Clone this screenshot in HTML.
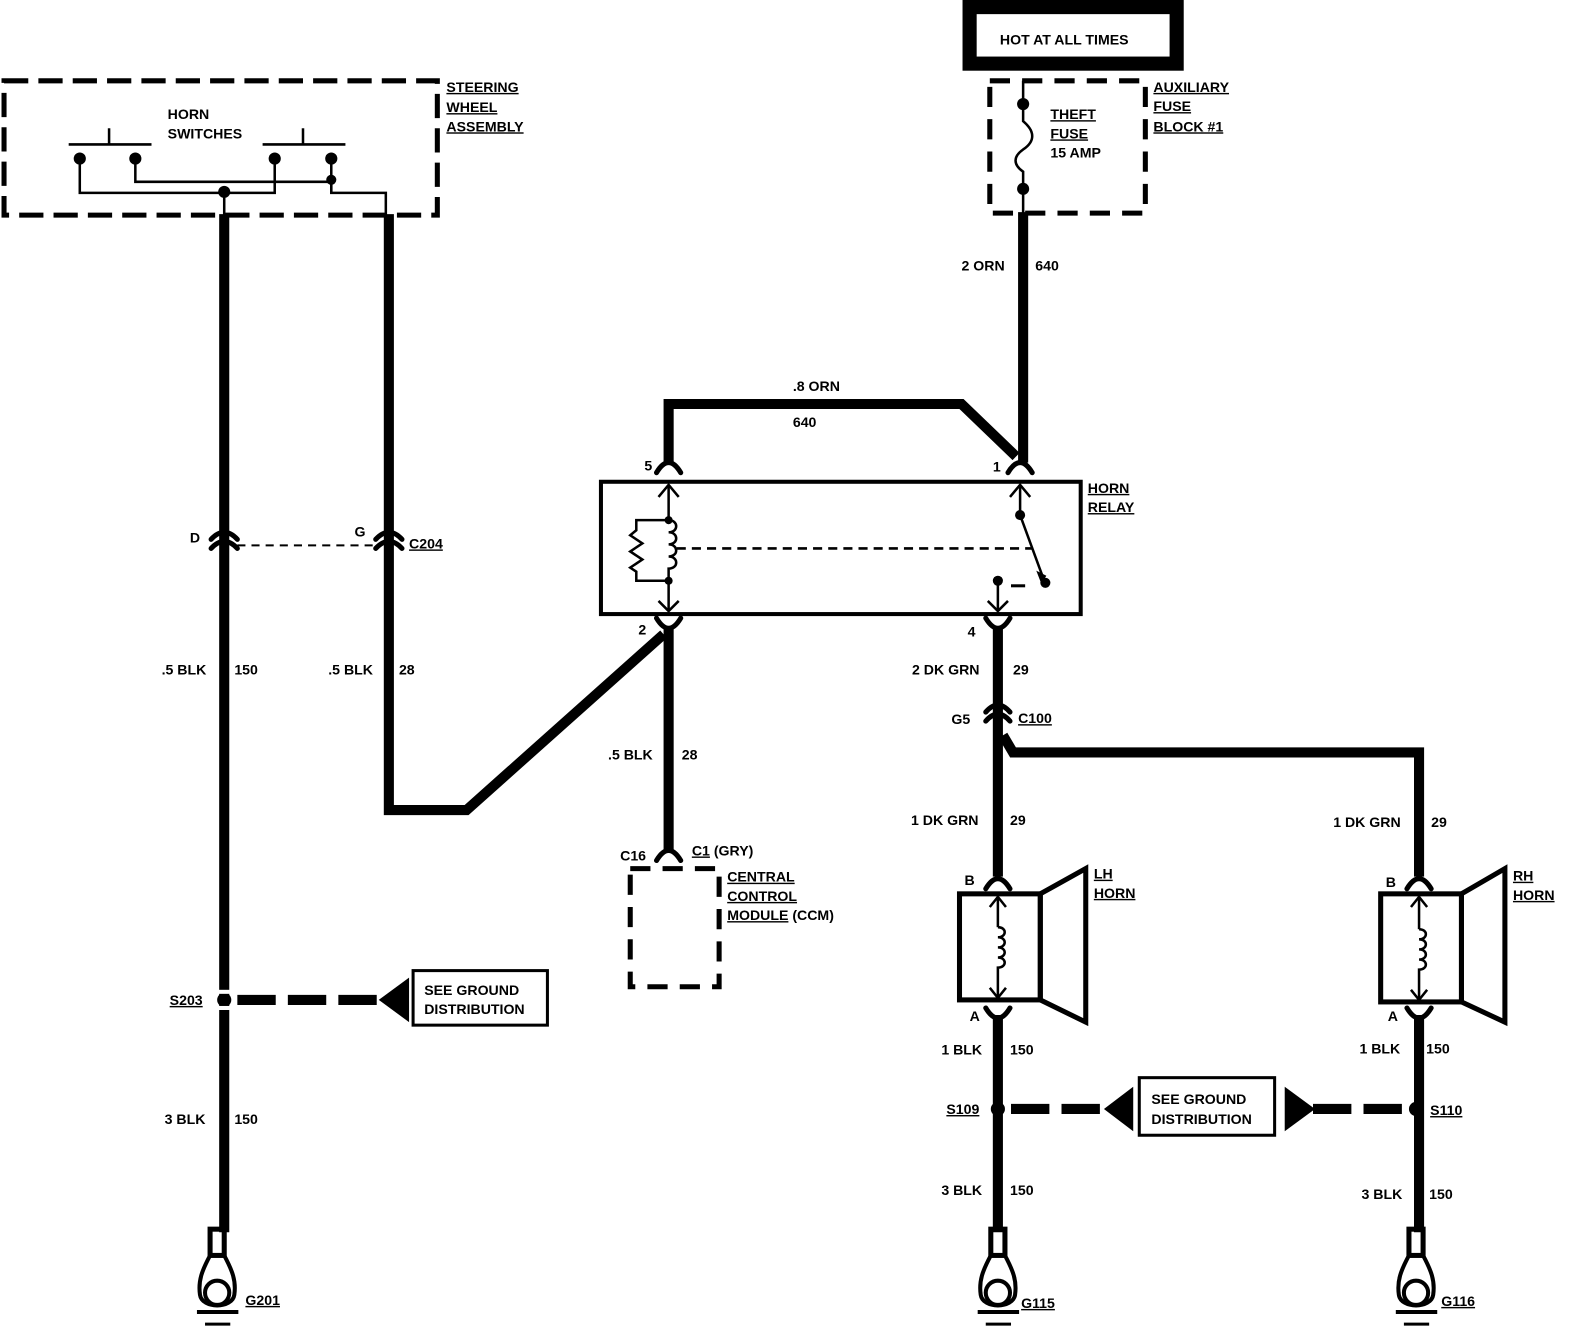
<!DOCTYPE html>
<html><head><meta charset="utf-8"><style>
html,body{margin:0;padding:0;background:#fff;}
svg{display:block;}
text{font-family:"Liberation Sans",sans-serif;font-weight:bold;font-size:14px;fill:#000;}
</style></head><body>
<svg width="1584" height="1334" viewBox="0 0 1584 1334" xmlns="http://www.w3.org/2000/svg">
<g transform="scale(1.01)">
<g fill="none" stroke="#000" stroke-linecap="butt" stroke-linejoin="miter">
<rect x="4" y="80" width="429" height="133" stroke-width="5" stroke-dasharray="24,10"/>
<g stroke-width="2.5">
<line x1="68" y1="143" x2="150" y2="143"/><line x1="108" y1="127" x2="108" y2="143"/>
<line x1="260" y1="143" x2="342" y2="143"/><line x1="300" y1="127" x2="300" y2="143"/>
<polyline points="79,157 79,191 272,191 272,157"/>
<polyline points="134,157 134,180 328,180"/>
<line x1="328" y1="157" x2="328" y2="191"/>
<polyline points="328,180 328,191 382,191 382,215"/>
<line x1="222" y1="191" x2="222" y2="215"/>
</g>
</g>
<g fill="#000">
<circle cx="79" cy="157" r="6"/><circle cx="134" cy="157" r="6"/><circle cx="272" cy="157" r="6"/><circle cx="328" cy="157" r="6"/>
<circle cx="328" cy="178" r="5"/><circle cx="222" cy="190" r="6"/>
</g>
<text x="166" y="118">HORN</text><text x="166" y="137">SWITCHES</text>
<text x="442" y="91" text-decoration="underline">STEERING</text><text x="442" y="111" text-decoration="underline">WHEEL</text><text x="442" y="130" text-decoration="underline">ASSEMBLY</text>

<rect x="953" y="0" width="219" height="70" fill="#000"/>
<rect x="967" y="14" width="191" height="42" fill="#fff"/>
<text x="990" y="44" font-size="15">HOT AT ALL TIMES</text>
<rect x="980" y="80" width="154" height="131" fill="none" stroke="#000" stroke-width="5" stroke-dasharray="20,12"/>
<path d="M1013 80 V120 C1025 130,1025 140,1013 148 C1003 155,1003 163,1013 170 V212" fill="none" stroke="#000" stroke-width="2.5"/>
<circle cx="1013" cy="103" r="6"/><circle cx="1013" cy="187" r="6"/>
<text x="1040" y="118" text-decoration="underline">THEFT</text><text x="1040" y="137" text-decoration="underline">FUSE</text><text x="1040" y="156">15 AMP</text>
<text x="1142" y="91" text-decoration="underline">AUXILIARY</text><text x="1142" y="110" text-decoration="underline">FUSE</text><text x="1142" y="130" text-decoration="underline">BLOCK #1</text>

<g fill="none" stroke="#000" stroke-width="10">
<line x1="1013" y1="210" x2="1013" y2="458"/>
<polyline points="662,458 662,400 952,400 1006,452"/>
<line x1="222" y1="212" x2="222" y2="1220"/>
<polyline points="385,212 385,802 462,802 657,628"/>
<line x1="662" y1="622" x2="662" y2="842"/>
<line x1="988" y1="622" x2="988" y2="868"/>
<polyline points="993,728 1003,745 1405,745 1405,868"/>
<line x1="988" y1="1005" x2="988" y2="1220"/>
<line x1="1405" y1="1005" x2="1405" y2="1220"/>
<line x1="235" y1="990" x2="375" y2="990" stroke-dasharray="38,12"/>
<line x1="1001" y1="1098" x2="1095" y2="1098" stroke-dasharray="38,12"/>
<line x1="1300" y1="1098" x2="1392" y2="1098" stroke-dasharray="38,12"/>
</g>
<g fill="none" stroke="#000" stroke-width="5" stroke-linecap="round">
<path d="M650 468 Q662 448 674 468"/><path d="M998 468 Q1010 448 1022 468"/>
<path d="M650 612 Q662 632 674 612"/><path d="M976 612 Q988 632 1000 612"/>
<path d="M650 852 Q662 832 674 852"/>
<path d="M976 880 Q988 860 1000 880"/><path d="M976 998 Q988 1018 1000 998"/>
<path d="M1393 880 Q1405 860 1417 880"/><path d="M1393 998 Q1405 1018 1417 998"/>
<path d="M209 534 Q222 520 235 534"/><path d="M209 543 Q222 529 235 543"/>
<path d="M372 534 Q385 520 398 534"/><path d="M372 543 Q385 529 398 543"/>
<path d="M976 705 Q988 691 1000 705"/><path d="M976 714 Q988 700 1000 714"/>
</g>
<line x1="235" y1="540" x2="372" y2="540" stroke="#000" stroke-width="2" stroke-dasharray="8,6"/>
<text x="188" y="537">D</text><text x="351" y="531">G</text><text x="405" y="543" text-decoration="underline">C204</text>
<text x="638" y="466">5</text><text x="983" y="467">1</text><text x="632" y="628">2</text><text x="958" y="630">4</text>
<text x="942" y="717">G5</text><text x="1008" y="716" text-decoration="underline">C100</text>
<text x="614" y="852">C16</text><text x="685" y="847"><tspan text-decoration="underline">C1</tspan> (GRY)</text>

<rect x="595" y="477" width="475" height="131" fill="none" stroke="#000" stroke-width="4"/>
<g fill="none" stroke="#000" stroke-width="2.5">
<line x1="662" y1="480" x2="662" y2="515"/><line x1="662" y1="575" x2="662" y2="605"/>
<polyline points="652,492 662,480 672,492"/><polyline points="652,595 662,605 672,595"/>
<path d="M662 515 c10 0 10 12 0 12 c10 0 10 12 0 12 c10 0 10 12 0 12 c10 0 10 12 0 12 v12"/>
<polyline points="662,515 630,515 630,525 624,530 636,538 624,546 636,554 624,562 630,566 630,575 662,575"/>
<line x1="1010" y1="480" x2="1010" y2="510"/><polyline points="1000,492 1010,480 1020,492"/>
<line x1="1010" y1="510" x2="1032" y2="570"/>
<line x1="988" y1="575" x2="988" y2="605"/><polyline points="978,595 988,605 998,595"/>
</g>
<polygon points="1026,565 1036,570 1031,578" fill="#000"/>
<line x1="670" y1="543" x2="1022" y2="543" stroke="#000" stroke-width="2.5" stroke-dasharray="9,6"/>
<line x1="1001" y1="580" x2="1015" y2="580" stroke="#000" stroke-width="3"/>
<circle cx="662" cy="515" r="4"/><circle cx="662" cy="575" r="4"/><circle cx="1010" cy="510" r="5"/><circle cx="1035" cy="577" r="5"/><circle cx="988" cy="575" r="5"/>
<text x="1077" y="488" text-decoration="underline">HORN</text><text x="1077" y="507" text-decoration="underline">RELAY</text>

<rect x="624" y="860" width="88" height="117" fill="none" stroke="#000" stroke-width="5" stroke-dasharray="20,12"/>
<text x="720" y="873" text-decoration="underline">CENTRAL</text><text x="720" y="892" text-decoration="underline">CONTROL</text><text x="720" y="911"><tspan text-decoration="underline">MODULE</tspan> (CCM)</text>

<text x="952" y="268">2 ORN</text><text x="1025" y="268">640</text>
<text x="785" y="387">.8 ORN</text><text x="785" y="423">640</text>
<text x="160" y="668">.5 BLK</text><text x="232" y="668">150</text>
<text x="325" y="668">.5 BLK</text><text x="395" y="668">28</text>
<text x="602" y="752">.5 BLK</text><text x="675" y="752">28</text>
<text x="903" y="668">2 DK GRN</text><text x="1003" y="668">29</text>
<text x="902" y="817">1 DK GRN</text><text x="1000" y="817">29</text>
<text x="1320" y="819">1 DK GRN</text><text x="1417" y="819">29</text>
<text x="163" y="1113">3 BLK</text><text x="232" y="1113">150</text>
<text x="932" y="1044">1 BLK</text><text x="1000" y="1044">150</text>
<text x="932" y="1183">3 BLK</text><text x="1000" y="1183">150</text>
<text x="1346" y="1043">1 BLK</text><text x="1412" y="1043">150</text>
<text x="1348" y="1187">3 BLK</text><text x="1415" y="1187">150</text>

<circle cx="222" cy="990" r="7"/><circle cx="988" cy="1098" r="7"/><circle cx="1402" cy="1098" r="7"/>
<rect x="216" y="980" width="12" height="4" fill="#fff"/><rect x="216" y="996" width="12" height="4" fill="#fff"/>
<text x="168" y="995" text-decoration="underline">S203</text>
<text x="937" y="1103" text-decoration="underline">S109</text>
<text x="1416" y="1104" text-decoration="underline">S110</text>
<polygon points="375,990 405,968 405,1012"/>
<rect x="409" y="961" width="133" height="54" fill="none" stroke="#000" stroke-width="3"/>
<text x="420" y="985">SEE GROUND</text><text x="420" y="1004">DISTRIBUTION</text>
<polygon points="1093,1098 1122,1076 1122,1120"/>
<polygon points="1302,1098 1272,1076 1272,1120"/>
<rect x="1128" y="1067" width="134" height="57" fill="none" stroke="#000" stroke-width="3"/>
<text x="1140" y="1093">SEE GROUND</text><text x="1140" y="1113">DISTRIBUTION</text>

<g fill="none" stroke="#000" stroke-width="5">
<rect x="950" y="885" width="80" height="105"/>
<polygon points="1030,885 1075,860 1075,1012 1030,990"/>
<rect x="1367" y="885" width="80" height="107"/>
<polygon points="1447,885 1490,860 1490,1012 1447,992"/>
</g>
<g fill="none" stroke="#000" stroke-width="2.5">
<line x1="988" y1="888" x2="988" y2="918"/><polyline points="980,898 988,888 996,898"/>
<path d="M988 918 c9 0 9 10 0 10 c9 0 9 10 0 10 c9 0 9 10 0 10 c9 0 9 10 0 10 v30"/><polyline points="980,978 988,988 996,978"/>
<line x1="1405" y1="888" x2="1405" y2="920"/><polyline points="1397,898 1405,888 1413,898"/>
<path d="M1405 920 c9 0 9 10 0 10 c9 0 9 10 0 10 c9 0 9 10 0 10 c9 0 9 10 0 10 v30"/><polyline points="1397,980 1405,990 1413,980"/>
</g>
<text x="955" y="876">B</text><text x="960" y="1011">A</text>
<text x="1372" y="878">B</text><text x="1374" y="1011">A</text>
<text x="1083" y="870" text-decoration="underline">LH</text><text x="1083" y="889" text-decoration="underline">HORN</text>
<text x="1498" y="872" text-decoration="underline">RH</text><text x="1498" y="891" text-decoration="underline">HORN</text>

<g id="gnd" fill="none" stroke="#000">
<rect x="208" y="1217" width="14" height="26" stroke-width="5"/>
<path d="M208 1243 C200 1258,196 1268,198 1282 C200 1296,230 1296,232 1282 C234 1268,230 1258,222 1243" stroke-width="4"/>
<circle cx="215" cy="1280" r="12" stroke-width="4"/>
<line x1="195" y1="1299" x2="236" y2="1299" stroke-width="4"/>
<line x1="203" y1="1311" x2="228" y2="1311" stroke-width="3"/>
</g>
<use href="#gnd" x="773" y="0"/>
<use href="#gnd" x="1187" y="0"/>
<text x="243" y="1292" text-decoration="underline">G201</text>
<text x="1011" y="1295" text-decoration="underline">G115</text>
<text x="1427" y="1293" text-decoration="underline">G116</text>
</g>
</svg>
</body></html>
